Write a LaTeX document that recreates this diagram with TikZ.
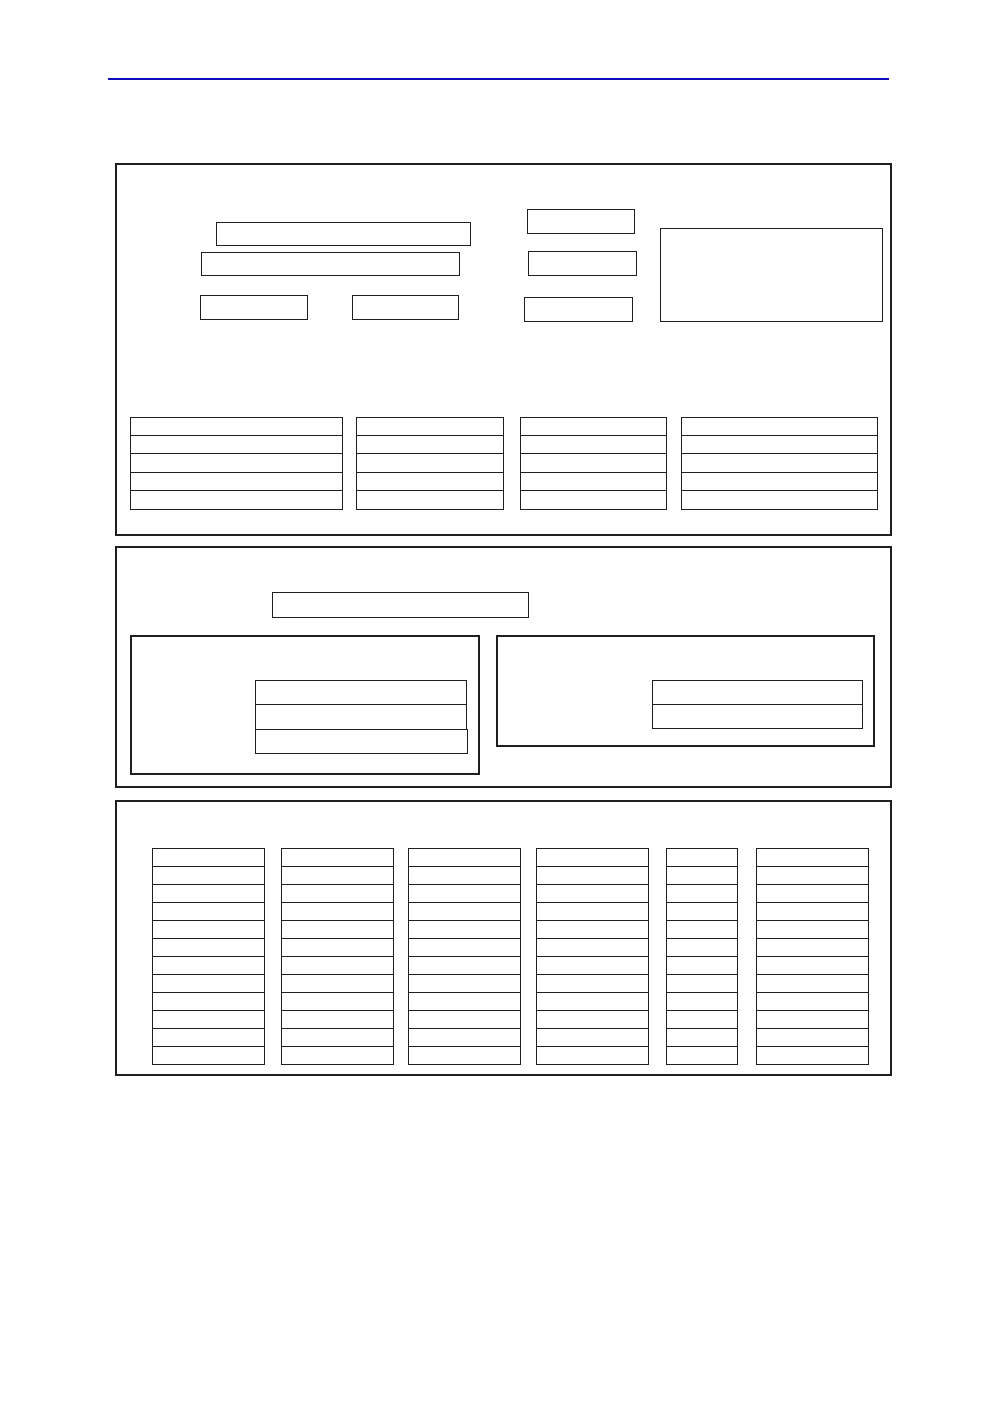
\documentclass[tikz,border=0pt]{standalone}
\usetikzlibrary{positioning}
\definecolor{headblue}{RGB}{14,14,188}
\tikzset{
  panel/.style={draw=black!88, line width=2pt},
  field/.style={draw=black!88, line width=1pt},
  headrule/.style={draw=headblue, line width=2pt}
}
\begin{document}
\begin{tikzpicture}[x=1pt, y=-1pt]
  \useasboundingbox (0,0) rectangle (998,1418);
  \draw[headrule] (108,79) -- (889,79);

  % upper panel
  \draw[panel] (116,164) rectangle (891,535);
  \draw[field] (216,222) rectangle (470,245);
  \draw[field] (201,252) rectangle (459,275);
  \draw[field] (200,295) rectangle (307,319);
  \draw[field] (352,295) rectangle (458,319);
  \draw[field] (527,209) rectangle (634,233);
  \draw[field] (528,251) rectangle (636,275);
  \draw[field] (524,297) rectangle (632,321);
  \draw[field] (660,228) rectangle (882,321);
  \foreach \x/\w in {130/212, 356/147, 520/146, 681/196}
    \foreach \r in {0,...,4}
      \draw[field] (\x,417+\r*18.4) rectangle ++(\w,18.4);

  % middle panel
  \draw[panel] (116,547) rectangle (891,787);
  \draw[field] (272,592) rectangle (528,617);
  \draw[panel] (131,636) rectangle (479,774);
  \draw[field] (255,680) rectangle (466,704);
  \draw[field] (255,704) rectangle (466,729);
  \draw[field] (255,729) rectangle (467,753);
  \draw[panel] (497,636) rectangle (874,746);
  \draw[field] (652,680) rectangle (862,704);
  \draw[field] (652,704) rectangle (862,728);

  % lower panel
  \draw[panel] (116,801) rectangle (891,1075);
  \foreach \x/\w in {152/112, 281/112, 408/112, 536/112, 666/71, 756/112}
    \foreach \r in {0,...,11}
      \draw[field] (\x,848+\r*18) rectangle ++(\w,18);
\end{tikzpicture}
\end{document}
